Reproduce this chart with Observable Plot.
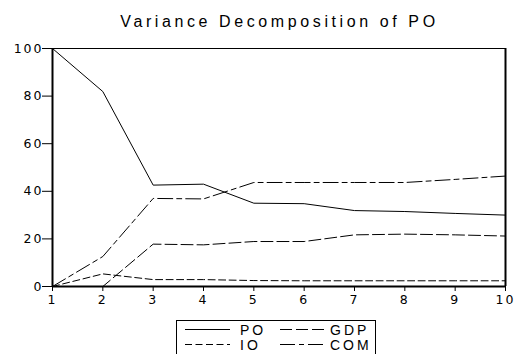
<!DOCTYPE html>
<html>
<head>
<meta charset="utf-8">
<script src="https://cdn.jsdelivr.net/npm/d3@7"></script>
<script src="https://cdn.jsdelivr.net/npm/@observablehq/plot@0.6"></script>
<style>
  html, body { margin: 0; padding: 0; background: #fff; overflow: hidden; }
  body { width: 519px; height: 354px; font-family: "Liberation Sans", Arial, sans-serif; }
  #title { height: 40px; box-sizing: border-box; padding-top: 13px; padding-left: 40px; text-align: center; font-size: 16px; letter-spacing: 3.6px; color: #000; line-height: 18px; }
  #chart svg { display: block; }
  #legend { display: block; }
</style>
</head>
<body>
<div id="title">Variance Decomposition of PO</div>
<div id="chart"></div>
<div id="legend"></div>
<script>
const periods = [1, 2, 3, 4, 5, 6, 7, 8, 9, 10];
const PO  = [100, 81.9, 42.6, 43.0, 35.0, 34.8, 31.9, 31.5, 30.7, 30.0];
const GDP = [0, 0, 17.8, 17.5, 18.9, 18.9, 21.7, 22.0, 21.7, 21.2];
const IO  = [0, 5.3, 2.9, 2.9, 2.5, 2.4, 2.4, 2.4, 2.4, 2.4];
const COM = [0, 12.6, 37.0, 36.8, 43.7, 43.7, 43.7, 43.7, 45.0, 46.4];
const seriesNames = ["PO", "GDP", "IO", "COM"];
const yTicks = [0, 20, 40, 60, 80, 100];

const dashes = { PO: null, GDP: "12,4", IO: "7,3.5", COM: "15,4,5,4" };
const values = { PO, GDP, IO, COM };

const rows = seriesNames.flatMap(s => periods.map((p, i) => ({ series: s, period: p, value: values[s][i] })));

const lineMarks = seriesNames.map(s => Plot.line(rows.filter(d => d.series === s), {
  x: "period", y: "value", stroke: "#000", strokeWidth: 1, strokeDasharray: dashes[s]
}));

const chart = Plot.plot({
  width: 519,
  height: 280,
  marginLeft: 52,
  marginRight: 14,
  marginTop: 8,
  marginBottom: 34,
  style: { fontFamily: "DejaVu Sans, sans-serif", fontSize: "12.5px", color: "#000", background: "#fff" },
  x: { domain: [1, 10], ticks: periods, tickSize: 5, tickPadding: 4, tickFormat: d => String(d), label: null },
  y: { domain: [0, 100], ticks: yTicks, tickSize: 10, tickPadding: 0, label: null },
  marks: [
    Plot.frame({ stroke: "#000", strokeWidth: 1 }),
    Plot.ruleX([1, 10], { stroke: "#000", strokeWidth: 2 }),
    Plot.ruleY([0], { stroke: "#000", strokeWidth: 2 }),
    ...lineMarks
  ]
});
chart.querySelectorAll("g[aria-label='x-axis tick label'] text, g[aria-label='y-axis tick label'] text").forEach(t => {
  t.setAttribute("letter-spacing", "2");
});
chart.querySelectorAll("g[aria-label='y-axis tick label'] text").forEach(t => {
  t.setAttribute("dx", "1");
});
document.getElementById("chart").appendChild(chart);

// legend
const ns = "http://www.w3.org/2000/svg";
const lg = document.createElementNS(ns, "svg");
lg.setAttribute("width", 519);
lg.setAttribute("height", 40);
const box = document.createElementNS(ns, "rect");
box.setAttribute("x", 176.5); box.setAttribute("y", 0.5);
box.setAttribute("width", 199); box.setAttribute("height", 38);
box.setAttribute("fill", "#fff"); box.setAttribute("stroke", "#000");
lg.appendChild(box);
const pos = { PO: [185, 9.5], GDP: [280, 9.5], IO: [185, 24.5], COM: [280, 24.5] };
seriesNames.forEach(s => {
  const [x, y] = pos[s];
  const l = document.createElementNS(ns, "line");
  l.setAttribute("x1", x); l.setAttribute("x2", x + 45);
  l.setAttribute("y1", y); l.setAttribute("y2", y);
  l.setAttribute("stroke", "#000");
  if (dashes[s]) l.setAttribute("stroke-dasharray", dashes[s]);
  lg.appendChild(l);
  const t = document.createElementNS(ns, "text");
  t.setAttribute("x", x + (s === "PO" || s === "IO" ? 55 : 50)); t.setAttribute("y", y + 5);
  t.setAttribute("font-size", "14");
  t.setAttribute("letter-spacing", "3");
  t.setAttribute("font-family", "Liberation Sans, Arial, sans-serif");
  t.textContent = s;
  lg.appendChild(t);
});
document.getElementById("legend").appendChild(lg);
</script>
</body>
</html>
